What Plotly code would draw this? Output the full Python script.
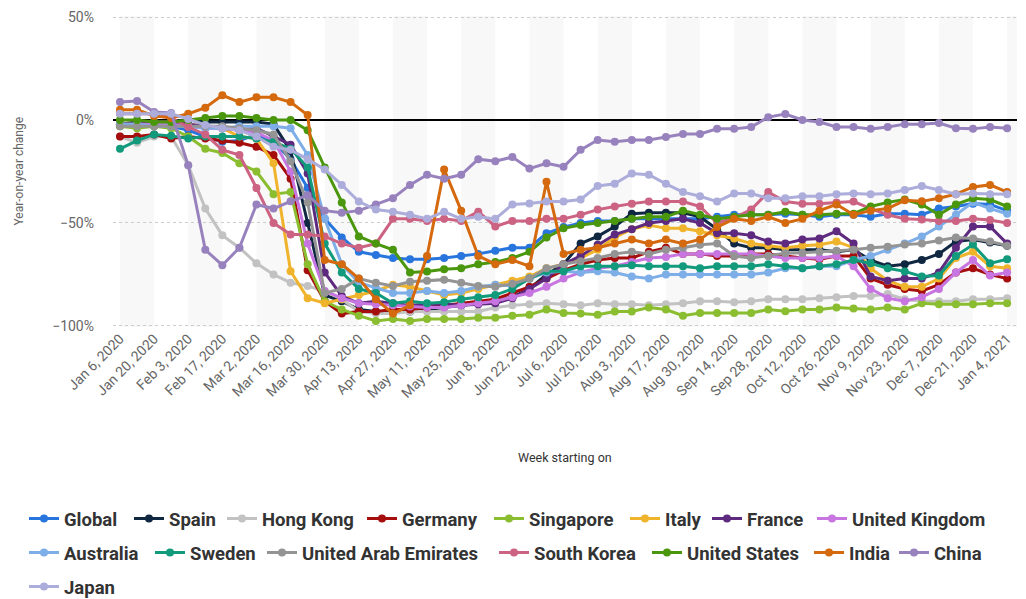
import pandas as pd
import plotly.graph_objects as go

# ---------------- data ----------------
dates = pd.date_range("2020-01-06", periods=53, freq="7D")
weeks = [f"{d:%b} {d.day}, {d.year}" for d in dates]
weeks[34] = "Aug 30, 2020"
tick_labels = weeks[::2]
y_tick_values = [-100, -50, 0, 50]
y_tick_labels = ["\u2212100%", "\u221250%", "0%", "50%"]

series_names = ["Global", "Spain", "Hong Kong", "Germany", "Singapore", "Italy", "France",
                "United Kingdom", "Australia", "Sweden", "United Arab Emirates", "South Korea",
                "United States", "India", "China", "Japan"]

global_ = [-2, -2, -2, -3, -5, -8, -10.6, -10, -7, -10.6, -19, -33, -48, -57, -64, -65.5, -67, -67.6, -67.6, -67,
           -66, -65, -63.5, -62, -62, -55, -52, -50, -49, -49, -48, -48, -48, -48, -48, -47, -46, -46, -46, -45.5,
           -46, -47, -46, -46, -47, -45.5, -45.5, -46, -43, -42, -40.6, -41, -44]
spain = [-2, -1, -1, -1, 0, -1, -1, -1, -1, -2, -15, -50, -85, -88, -92, -93, -93, -93, -92, -91,
         -90, -89, -88, -86, -82, -75, -70, -60, -56.5, -51.7, -45.5, -45, -45, -45, -47, -53, -60, -62, -62, -63,
         -63, -63, -64, -63, -68, -71, -70, -68, -65, -59, -58, -59.5, -61]
hong_kong = [-8, -11, -8, -8, -22, -43, -56, -62, -69.6, -75, -79, -80.6, -83, -87, -93, -94, -94, -93, -93, -93,
             -93, -93, -91, -90, -89.5, -89, -89.5, -90, -89, -89.5, -89.5, -90, -89.5, -89, -88, -88, -88.5, -88, -87, -87,
             -87, -86.5, -86, -85.5, -85.5, -84.5, -87, -88, -88, -88, -87, -87, -86.5]
germany = [-8, -8, -7, -9, -8, -9, -10, -11, -13, -17, -28.5, -73, -88, -94, -93, -93, -92, -92, -91, -90,
           -89, -88, -87, -84, -81, -77, -73, -70, -68, -67, -67, -64, -62, -65, -65, -66, -66, -65, -65, -66,
           -67, -67.6, -66, -66, -77, -80, -82, -83, -80, -74, -72, -75, -77]
singapore = [-3, -4, -3, -4, -8, -14, -16, -21, -25, -36, -35, -70, -88, -92, -95, -97.6, -96.6, -97.6, -96.6, -96.6,
             -96.6, -96, -96, -95, -94.5, -92, -93.7, -94, -94.5, -93, -93, -91, -92, -95, -93.7, -93.7, -93.7, -93.7, -92, -92.8,
             -92, -92, -91, -91.5, -92, -91, -92, -89, -89.5, -89.5, -89.5, -89, -89]
italy = [-2, -2, -1, -1, -2, -3, -4, -8, -9, -21, -73.4, -86.5, -89, -87, -85, -83, -80, -81, -83, -85,
         -84, -82, -80, -78, -76, -72, -70, -67, -63, -57, -53, -51, -52.6, -52.6, -54, -56, -57.5, -60, -61, -62,
         -61, -60.6, -59, -62, -72, -78, -81, -81, -77, -67, -64, -71, -72]
france = [-2, -2, -1, -1, -2, -3, -4, -5, -4, -8, -12, -26, -74, -85.5, -89, -88, -89, -90, -89.5, -89.5,
          -90, -89.5, -89, -86.5, -82, -77, -70, -66, -60.6, -55.6, -53, -50, -49, -48, -50, -55, -55, -56, -59, -60,
          -58, -57.5, -54, -60, -76, -78, -77, -77, -74, -62, -51.7, -51.7, -60]
united_kingdom = [-2, -2, -2, -2, -3, -4, -4, -5, -6, -10, -25, -60, -83, -86.5, -89, -89.5, -90, -90.5, -91, -91,
                  -90, -89, -88, -86, -84, -81, -77, -74, -72, -71, -69, -67, -66.5, -65, -65, -65, -65, -65, -66, -67,
                  -67, -67, -66, -71, -82, -86.5, -88, -86, -82, -74, -68, -75.5, -74]
australia = [-2, -2, -3, -3, -3, -4, -4, -3, -3, -3, -4, -17, -48, -70, -79, -81.6, -84, -84, -83, -84,
             -83, -81, -80, -80.6, -77, -74, -73.4, -74, -73.4, -74, -76, -77, -75, -75, -75, -75, -75, -75, -74, -72,
             -72, -71, -71, -68, -66, -63, -60, -56.5, -51.7, -46, -40, -43, -45.5]
sweden = [-14, -10, -7, -7.7, -9, -8, -8, -8, -9, -10.6, -14, -23, -60, -74, -82, -84, -89, -88, -89, -88.5,
          -87, -86, -85, -82, -77, -73.4, -73.4, -71, -71, -71, -70.5, -71, -71, -71, -72, -71, -71, -71, -70, -71,
          -72, -71, -70, -68, -69.6, -72, -73.5, -76, -75.5, -66, -60.5, -69.6, -67.6]
uae = [-3, -3, -3, -3, -3, -3, -3, -4, -5, -7, -20, -40, -84, -82, -77, -79, -80.6, -78.5, -78, -77.5,
       -79, -80.6, -81, -79.5, -77, -72, -70, -68.6, -67, -65, -64, -65, -63, -62, -60.6, -60, -66, -67, -66, -64.7,
       -64.5, -64, -63.5, -63, -62, -61.5, -60.5, -60, -58.5, -57, -57.5, -59, -61]
south_korea = [3, 3, 3, 1, -3.4, -7, -14.5, -17, -33, -50, -55.6, -55.6, -56.5, -60, -62, -60, -48, -48, -49, -48,
               -49, -44.5, -51.7, -49, -49, -48, -48, -46, -43.5, -42, -40.6, -39.6, -39.6, -39.6, -42, -50, -47.5, -43.5, -35, -39.6,
               -40.6, -40.6, -40, -39.6, -43, -46, -48, -48.3, -49, -49, -48, -48.5, -50]
united_states = [0, 0, -1, -1, 0, 1, 2, 2, 1, 0, 0, -5, -23, -40, -56.5, -60, -63, -74, -73.5, -72.5,
                 -72, -70, -69, -67, -64, -57, -52.6, -51, -50, -49, -48, -47, -47, -44, -46, -48, -47, -46, -46, -44.5,
                 -46, -46, -45.5, -45.5, -42, -40, -38.6, -41, -46, -41, -38, -38.6, -42]
india = [5, 5, 2, 1, 3, 6, 12, 8.7, 11, 11, 8.7, 2.4, -68, -70, -77, -87, -94, -90, -66, -24,
         -44, -66, -70, -68, -71, -30, -65, -63, -62, -60, -58, -60, -58, -60, -58, -52, -48, -49, -47, -50,
         -48, -44, -41, -46, -44, -43, -39, -39.5, -38, -36, -32.5, -31.5, -35]
china = [8.7, 9.2, 3.9, 3.4, -22, -63, -70.5, -62, -41, -43, -39.5, -36.5, -44, -45, -44, -41, -38, -31.5, -26.6, -28.5,
         -26.6, -19, -20, -18, -23.6, -21, -22.7, -14.5, -9.7, -10.6, -9.7, -9.7, -8.2, -6.8, -6.8, -4.3, -4.3, -3.4, 1.4, 2.9,
         0, -1, -3.4, -3.4, -4.3, -3.4, -2, -2, -1.5, -4, -4.3, -3.4, -4]
japan = [3, 3, 3, 3, 0.5, -2.4, -4, -5, -8, -13, -14.5, -19, -24, -31.5, -39.6, -43.5, -44.5, -46, -48, -44.5,
         -48, -47, -48, -41, -40.5, -39.6, -39.6, -38.6, -32, -31, -26, -26.6, -31, -35, -37, -39.6, -35.7, -35.7, -38, -38,
         -37, -37, -36, -35.7, -36, -35.7, -34, -32, -34, -36, -35.7, -36, -36]

series_values = [global_, spain, hong_kong, germany, singapore, italy, france, united_kingdom,
                 australia, sweden, uae, south_korea, united_states, india, china, japan]

# ---------------- styles ----------------
colors = ["#2876dd", "#0f2741", "#c2c2c2", "#a60d0d", "#8abd2f", "#f0b42c", "#5e2a7f", "#c775e0",
          "#7eaee8", "#119a7c", "#949494", "#cc6383", "#4a970d", "#d4690e", "#9882bd", "#adaddb"]

# legend entry positions (symbol left edge, row centre) in page pixels
legend_pos = [(32, 519), (137, 519), (230, 519), (370, 519), (497, 519), (633, 519), (715, 519), (820, 519),
              (32, 553), (158, 553), (270, 553), (502, 553), (655, 553), (817, 553), (902, 553),
              (32, 587)]

W, H = 1026, 599
FONT = "Roboto, Liberation Sans, sans-serif"

fig = go.Figure()
for i, (name, vals, col) in enumerate(zip(series_names, series_values, colors)):
    lid = "legend" if i == 0 else f"legend{i + 1}"
    fig.add_trace(go.Scatter(
        x=weeks, y=vals, name=name, mode="lines+markers",
        line=dict(color=col, width=3),
        marker=dict(color=col, size=8),
        legend=lid,
        hovertemplate="%{x}: %{y}%<extra>" + name + "</extra>",
    ))
    px, py = legend_pos[i]
    fig.update_layout({lid: dict(
        x=(px - 8) / W, y=1 - py / H, xref="container", yref="container",
        xanchor="left", yanchor="middle", orientation="h",
        bgcolor="rgba(0,0,0,0)", borderwidth=0, itemwidth=30,
        font=dict(family=FONT, size=18.5, color="#333333", weight=700),
    )})

xmin, xmax = -0.41, 52.58
shapes = []
for k in range(14):
    x0, x1 = 4 * k, min(4 * k + 2, xmax)
    if x0 < xmax:
        shapes.append(dict(type="rect", xref="x", yref="paper", x0=x0, x1=x1, y0=0, y1=1,
                           fillcolor="#f8f8f8", line=dict(width=0), layer="below"))

fig.update_layout(
    width=W, height=H,
    margin=dict(l=113, r=9, t=14, b=272),
    plot_bgcolor="white", paper_bgcolor="white",
    showlegend=True,
    shapes=shapes,
    font=dict(family=FONT, color="#666666"),
    xaxis=dict(
        type="category", range=[xmin, xmax],
        tickmode="array", tickvals=tick_labels, ticktext=tick_labels,
        tickangle=-45, tickfont=dict(size=14, color="#666666"),
        showgrid=False, zeroline=False, showline=False, ticks="",
    ),
    yaxis=dict(
        range=[-100.5, 50.5], tickmode="array", tickvals=y_tick_values, ticktext=y_tick_labels,
        tickfont=dict(size=14, color="#666666"), ticklabeloverflow="allow",
        showgrid=True, gridcolor="#cccccc", griddash="dot", gridwidth=1,
        zeroline=True, zerolinecolor="#000000", zerolinewidth=1.5,
        showline=False, ticks="", ticklabelstandoff=18,
    ),
    annotations=[
        dict(text="Year-on-year change", xref="paper", yref="paper", x=(18 - 113) / 904, y=0.5,
             textangle=-90, showarrow=False, font=dict(size=12, color="#666666"),
             xanchor="center", yanchor="middle"),
        dict(text="Week starting on", xref="paper", yref="paper", x=(565 - 113) / 904, y=(327 - 458) / 313,
             showarrow=False, font=dict(size=12.5, color="#333333"), xanchor="center", yanchor="middle"),
    ],
)

# remove the page's default body margin so the 1026x599 figure fills the window exactly
fig.write_html("out.html", config={"displayModeBar": False},
               post_script="document.body.style.margin='0';document.body.style.overflow='hidden';")
